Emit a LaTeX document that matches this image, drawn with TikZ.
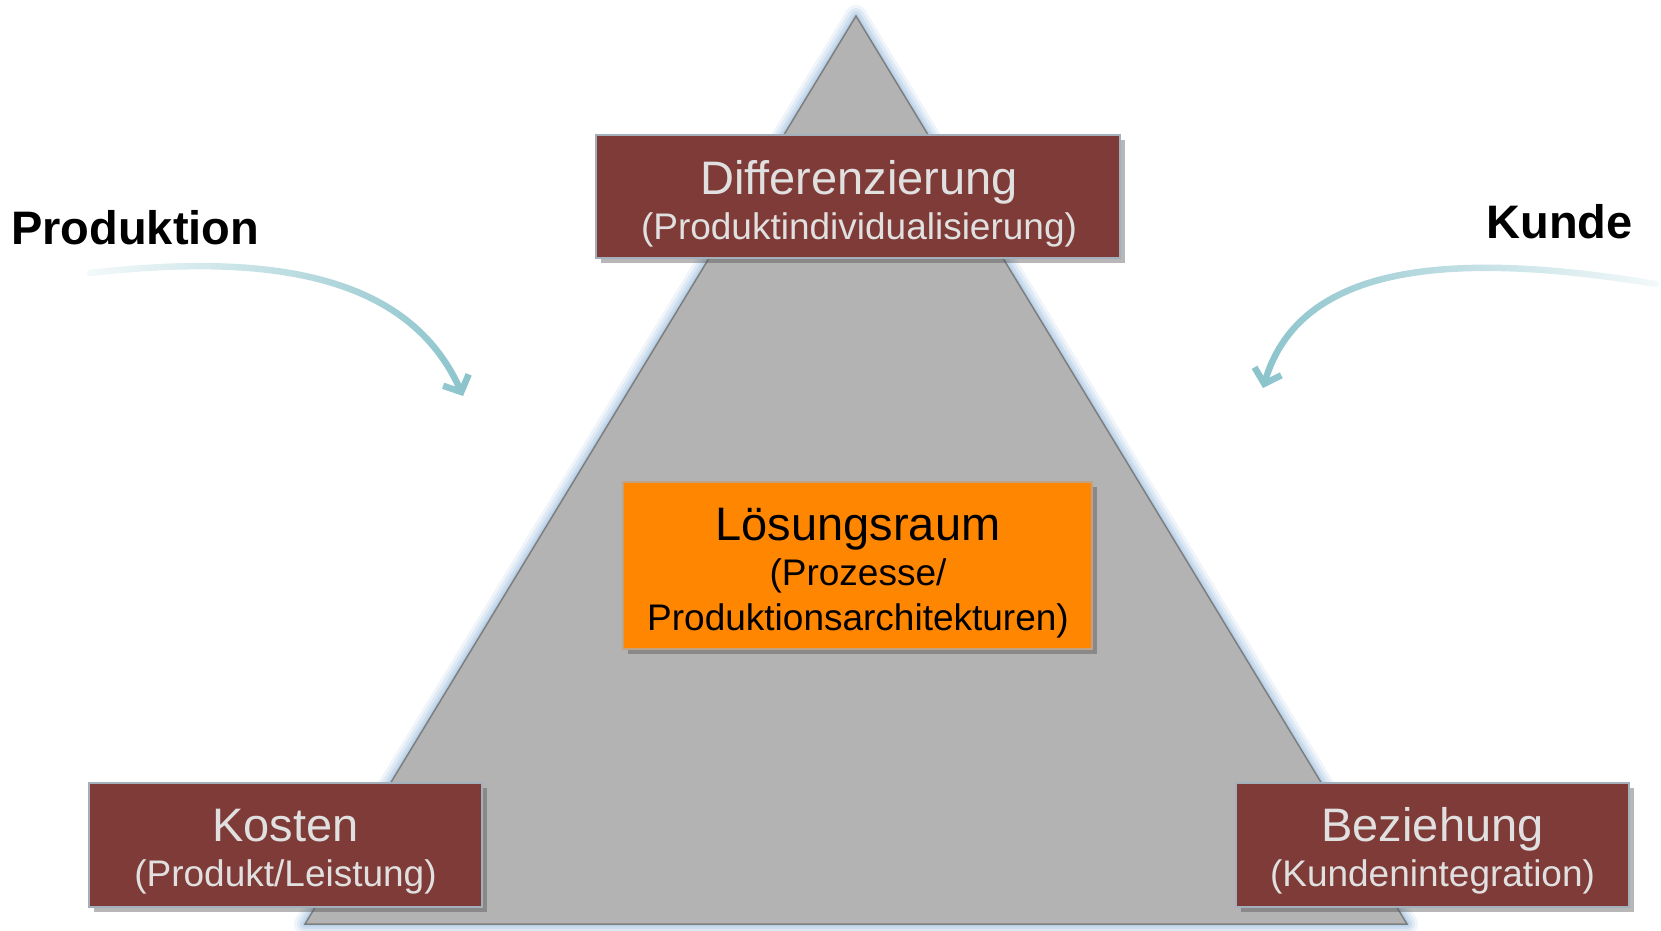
\documentclass[tikz,border=0pt]{standalone}
\usepackage{fontspec}
\setmainfont{Liberation Sans}
\usetikzlibrary{arrows.meta,shadows,fadings}
\definecolor{boxred}{HTML}{7F3B37}
\definecolor{boxtext}{HTML}{E0E0E0}
\definecolor{orangebox}{HTML}{FF8600}
\definecolor{trigrey}{HTML}{B3B3B3}
\definecolor{triedge}{HTML}{7E7E7E}
\definecolor{glow}{HTML}{A8C6E2}
\definecolor{teal}{HTML}{8CC4CC}
\definecolor{bevel}{HTML}{A3B0BC}
\tikzfading[name=fadetoleft, left color=transparent!90, middle color=transparent!0, right color=transparent!0]
\tikzfading[name=fadetoright, left color=transparent!0, middle color=transparent!0, right color=transparent!90]
\tikzset{
  redbox/.style={rectangle, fill=boxred, draw=bevel, line width=2pt, inner sep=0pt,
    drop shadow={shadow xshift=5pt, shadow yshift=-5pt, opacity=0.4, fill=black!70}},
  orangebx/.style={rectangle, fill=orangebox, draw=bevel!70!orangebox, line width=2pt, inner sep=0pt,
    drop shadow={shadow xshift=5pt, shadow yshift=-5pt, opacity=0.4, fill=black!70}},
  bigtxt/.style={anchor=base, inner sep=0pt, font=\fontsize{47}{47}\selectfont},
  smalltxt/.style={anchor=base, inner sep=0pt, font=\fontsize{37}{37}\selectfont},
  sidelabel/.style={anchor=base, inner sep=0pt, font=\fontsize{47}{47}\selectfont\bfseries},
  flowarrow/.style={draw=teal, line width=6.5pt, line cap=round,
    -{Straight Barb[length=13pt, width=28pt, line width=6.5pt]}},
  glowline/.style={draw=glow, line join=round},
}
\begin{document}
\begin{tikzpicture}[x=1pt, y=-1pt]
\useasboundingbox (0,0) rectangle (1661,930);
% triangle with soft glow
\coordinate (apex) at (856,16);
\coordinate (bl) at (305,924);
\coordinate (br) at (1407,924);
\draw[glowline, line width=22pt, opacity=0.18] (apex) -- (bl) -- (br) -- cycle;
\draw[glowline, line width=16pt, opacity=0.25] (apex) -- (bl) -- (br) -- cycle;
\draw[glowline, line width=10pt, opacity=0.35] (apex) -- (bl) -- (br) -- cycle;
\draw[glowline, line width=5pt, opacity=0.45] (apex) -- (bl) -- (br) -- cycle;
\draw[fill=trigrey, draw=triedge, line width=1.5pt, line join=miter] (apex) -- (bl) -- (br) -- cycle;

% boxes
\node[redbox, minimum width=524pt, minimum height=123pt] (diff) at (858,196.5) {};
\node[bigtxt, text=boxtext] (diffT) at (859,194) {Differenzierung};
\node[smalltxt, text=boxtext] (diffS) at (859,239) {(Produktindividualisierung)};

\node[orangebx, minimum width=469pt, minimum height=167pt] (loes) at (857.5,565.5) {};
\node[bigtxt] (loesT) at (858,540) {Lösungsraum};
\node[smalltxt] (loesS1) at (858,585) {(Prozesse/};
\node[smalltxt] (loesS2) at (858,630) {Produktionsarchitekturen)};

\node[redbox, minimum width=393pt, minimum height=124pt] (kost) at (285.5,845) {};
\node[bigtxt, text=boxtext] (kostT) at (285.5,841) {Kosten};
\node[smalltxt, text=boxtext] (kostS) at (285.5,886) {(Produkt/Leistung)};

\node[redbox, minimum width=393pt, minimum height=124pt] (bez) at (1432.5,845) {};
\node[bigtxt, text=boxtext] (bezT) at (1432.5,841) {Beziehung};
\node[smalltxt, text=boxtext] (bezS) at (1432.5,886) {(Kundenintegration)};

% side labels
\node[sidelabel, anchor=base west] (prod) at (11,244) {Produktion};
\node[sidelabel, anchor=base east] (kunde) at (1633,238) {Kunde};

% arrows
\coordinate (pa0) at (90,273);
\coordinate (pa1) at (463,396);
\draw[flowarrow, path fading=fadetoleft] (pa0) .. controls (250,255) and (405,266) .. (pa1);
\coordinate (ka0) at (1656,284);
\coordinate (ka1) at (1263,388);
\draw[flowarrow, path fading=fadetoright] (ka0) .. controls (1450,250) and (1300,264) .. (ka1);
\end{tikzpicture}
\end{document}
